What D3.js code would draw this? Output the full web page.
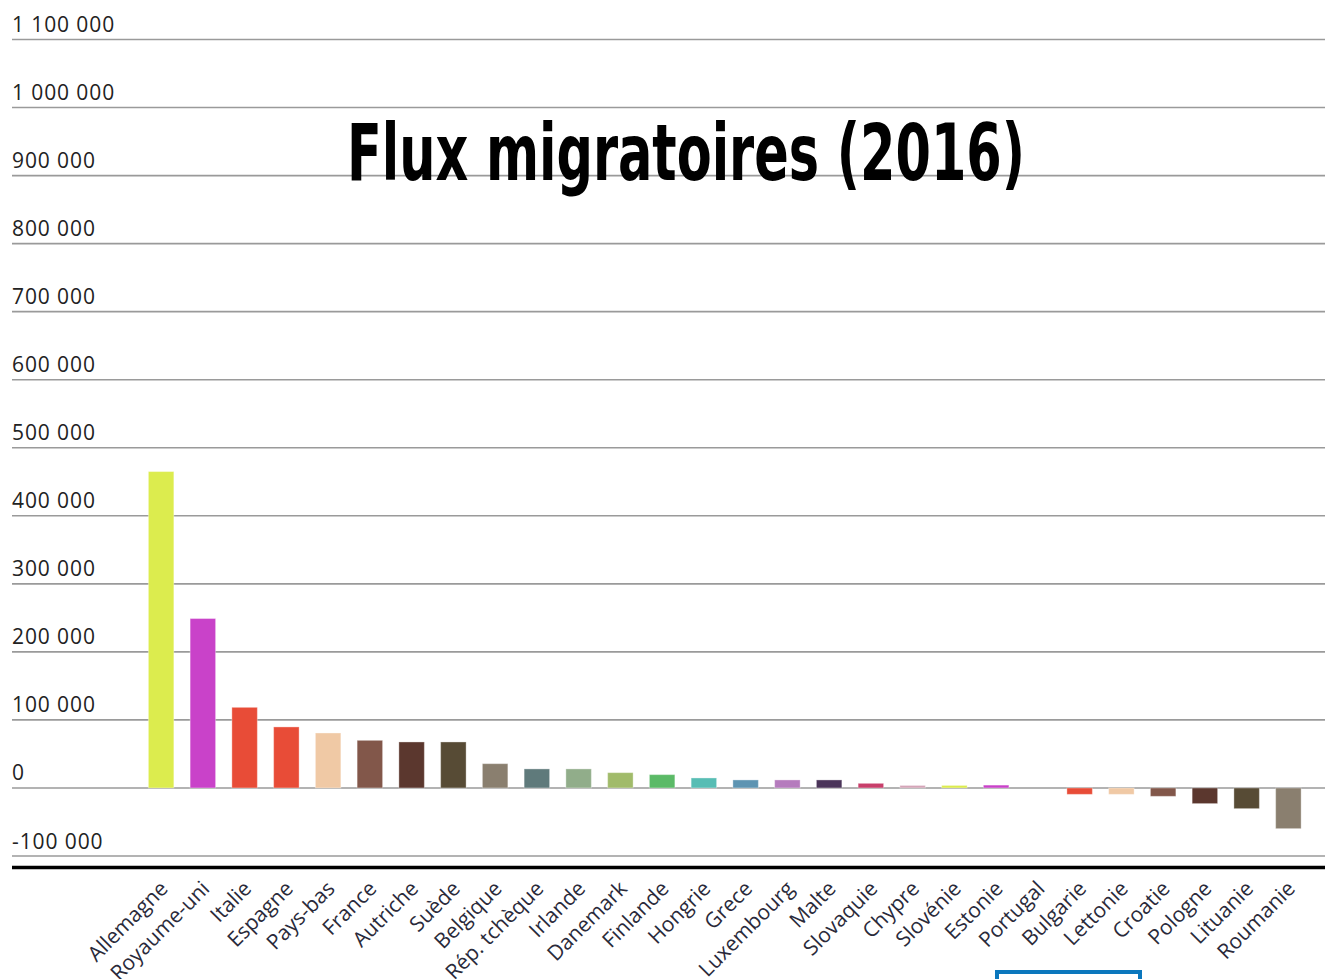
<!DOCTYPE html>
<html>
<head>
    <meta charset="utf-8">
    <title>Flux migratoires (2016)</title>
    <style>
        body { margin: 0; background: #fff; }
        svg { display: block; }
        .tick-label { font-family: "Open Sans", sans-serif; font-size: 21px; letter-spacing: 0.9px; fill: #222; }
        .grid { stroke: #9a9a9a; stroke-width: 1.6px; }
        .cat-label { font-family: "Open Sans", sans-serif; font-size: 21px; fill: #2a2a3a; }
        .title { font-family: "DejaVu Sans Condensed", "DejaVu Sans", sans-serif; font-weight: bold; font-stretch: condensed; font-size: 78px; fill: #000; }
    </style>
</head>
<body>
<script src="https://cdn.jsdelivr.net/npm/d3@7"></script>
<script>
    var width = 1325, height = 979;

    // pays, du plus fort au plus faible solde
    var countries = ["Allemagne", "Royaume-uni", "Italie", "Espagne", "Pays-bas", "France", "Autriche",
        "Suède", "Belgique", "Rép. tchèque", "Irlande", "Danemark", "Finlande", "Hongrie", "Grece",
        "Luxembourg", "Malte", "Slovaquie", "Chypre", "Slovénie", "Estonie", "Portugal", "Bulgarie",
        "Lettonie", "Croatie", "Pologne", "Lituanie", "Roumanie"];
    var values = [465000, 249000, 118500, 89700, 80800, 70000, 67600, 67600, 35700, 28000, 28000,
        22500, 19600, 14700, 11800, 11800, 11800, 6800, 3700, 3700, 4200, 0, -9400, -9400, -12300,
        -23000, -30400, -59800];
    var tickValues = [-100000, 0, 100000, 200000, 300000, 400000, 500000, 600000, 700000, 800000,
        900000, 1000000, 1100000];

    var palette = ["#dcec4e", "#c942c9", "#e84c37", "#e84c37", "#f0c9a5", "#82574a", "#5b372e",
        "#574b35", "#8a7f6f", "#5f7a7b", "#91ad8a", "#a1bb6a", "#5bba67", "#57bdb4", "#5e94b2",
        "#b57bbd", "#4a3459", "#c83f6b", "#d4a5b8"];

    var svg = d3.select("body").append("svg")
        .attr("width", width)
        .attr("height", height);

    var y = d3.scaleLinear().domain([-100000, 1100000]).range([856, 39.5]);
    var x = d3.scaleBand().domain(countries).range([127.5, 1322]).paddingInner(0.39).paddingOuter(0.5);
    var color = d3.scaleOrdinal().domain(d3.range(countries.length))
        .range(d3.range(countries.length).map(function (i) { return palette[i % palette.length]; }));

    var fmt = function (d) { return d3.format(",")(d).replace(/,/g, " ").replace("−", "-"); };

    // grille + libellés de l'axe
    var ticks = svg.append("g");
    ticks.selectAll("line").data(tickValues).enter().append("line")
        .attr("class", "grid")
        .attr("x1", 12).attr("x2", width)
        .attr("y1", function (d) { return y(d); })
        .attr("y2", function (d) { return y(d); });
    ticks.selectAll("text").data(tickValues).enter().append("text")
        .attr("class", "tick-label")
        .attr("x", 12)
        .attr("y", function (d) { return y(d) - 7.5; })
        .text(fmt);

    // titre
    svg.append("text")
        .attr("class", "title")
        .attr("x", 347).attr("y", 180)
        .attr("textLength", 678).attr("lengthAdjust", "spacingAndGlyphs")
        .text("Flux migratoires (2016)");

    // barres
    svg.append("g").selectAll("rect").data(values).enter().append("rect")
        .attr("x", function (d, i) { return x(countries[i]); })
        .attr("width", x.bandwidth())
        .attr("y", function (d) { return y(Math.max(0, d)); })
        .attr("height", function (d) { return Math.abs(y(d) - y(0)); })
        .attr("fill", function (d, i) { return color(i); })
        .attr("stroke", "rgba(255,255,255,0.35)")
        .attr("stroke-width", 1);

    // ligne épaisse sous le graphique
    svg.append("line")
        .attr("x1", 12).attr("x2", width)
        .attr("y1", 867.5).attr("y2", 867.5)
        .attr("stroke", "#000").attr("stroke-width", 3.5);

    // noms des pays, inclinés
    svg.append("g").selectAll("text").data(countries).enter().append("text")
        .attr("class", "cat-label")
        .attr("text-anchor", "end")
        .attr("transform", function (d) {
            return "translate(" + (x(d) + x.bandwidth() / 2 + 8) + ",890) rotate(-45)";
        })
        .text(function (d) { return d; });

    // cadre bleu tronqué en bas
    svg.append("rect")
        .attr("x", 997).attr("y", 972)
        .attr("width", 143).attr("height", 20)
        .attr("fill", "#fff")
        .attr("stroke", "#0b77bd").attr("stroke-width", 4);
</script>
</body>
</html>
